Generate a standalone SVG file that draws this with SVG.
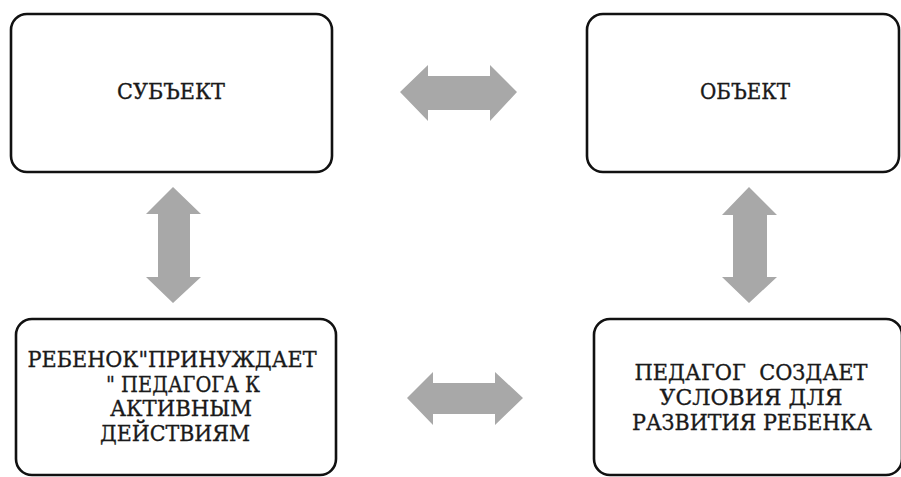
<svg xmlns="http://www.w3.org/2000/svg" width="901" height="477" viewBox="0 0 901 477">
  <style>
    .box { fill: #ffffff; stroke: #111111; stroke-width: 2.6; }
    .lbl { font-family: "DejaVu Serif", "Liberation Serif", serif; font-size: 23px; fill: #1a1a1a; stroke: #1a1a1a; stroke-width: 0.35; text-anchor: middle; }
    .arrow { fill: #a8a8a8; stroke: none; }
  </style>
  <rect x="0" y="0" width="901" height="477" fill="#ffffff"/>

  <g id="connectors">
    <polygon class="arrow" points="400,92 428,65 428,76 490,76 490,65 517,92 490,121 490,110 428,110 428,121"/>
    <polygon class="arrow" points="173,187 201,214 190,214 190,277 201,277 173,303 146,277 158,277 158,214 146,214"/>
    <polygon class="arrow" points="749,187 777,215 767,215 767,277 777,277 749,303 722,277 733,277 733,215 722,215"/>
    <polygon class="arrow" points="407,398 433,372 433,383 495,383 495,372 523,398 495,425 495,414 433,414 433,425"/>
  </g>

  <g id="subject">
    <rect class="box" x="11" y="14" width="321" height="158" rx="16"/>
    <text class="lbl" x="171" y="99" textLength="108" lengthAdjust="spacingAndGlyphs">СУБЪЕКТ</text>
  </g>

  <g id="object">
    <rect class="box" x="587" y="14" width="312" height="158" rx="16"/>
    <text class="lbl" x="745" y="99" textLength="90" lengthAdjust="spacingAndGlyphs">ОБЪЕКТ</text>
  </g>

  <g id="child">
    <rect class="box" x="16" y="319" width="320" height="156" rx="16"/>
    <text class="lbl" x="172" y="367" textLength="289" lengthAdjust="spacingAndGlyphs">РЕБЕНОК"ПРИНУЖДАЕТ</text>
    <text class="lbl" x="183" y="392" textLength="154" lengthAdjust="spacingAndGlyphs">" ПЕДАГОГА К</text>
    <text class="lbl" x="181" y="416" textLength="142" lengthAdjust="spacingAndGlyphs">АКТИВНЫМ</text>
    <text class="lbl" x="175" y="441" textLength="150" lengthAdjust="spacingAndGlyphs">ДЕЙСТВИЯМ</text>
  </g>

  <g id="teacher">
    <rect class="box" x="594" y="319" width="308" height="156" rx="16"/>
    <text class="lbl" x="751" y="380" textLength="233" lengthAdjust="spacingAndGlyphs" xml:space="preserve">ПЕДАГОГ  СОЗДАЕТ</text>
    <text class="lbl" x="751" y="405" textLength="183" lengthAdjust="spacingAndGlyphs">УСЛОВИЯ ДЛЯ</text>
    <text class="lbl" x="752" y="430" textLength="240" lengthAdjust="spacingAndGlyphs">РАЗВИТИЯ РЕБЕНКА</text>
  </g>
</svg>
